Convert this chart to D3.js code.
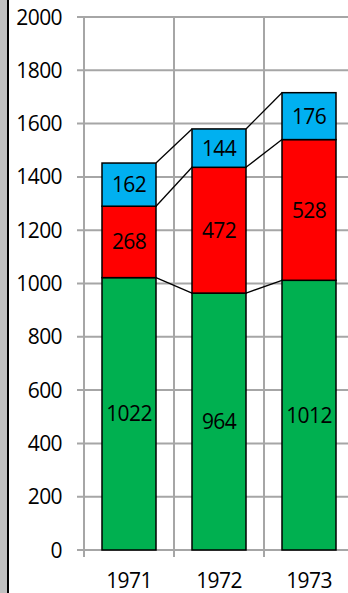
<!DOCTYPE html>
<html>
<head>
<meta charset="utf-8">
<script src="https://cdn.jsdelivr.net/npm/d3@7"></script>
<style>
  html, body { margin: 0; padding: 0; background: #fff; }
  svg { display: block; }
  text { font-family: "Open Sans", "Noto Sans", sans-serif; fill: #000; letter-spacing: -0.6px; }
</style>
</head>
<body>
<svg id="chart" width="348" height="593"></svg>
<script>
const years = ["1971", "1972", "1973"];
const greenValues = [1022, 964, 1012];
const redValues = [268, 472, 528];
const blueValues = [162, 144, 176];
const yTicks = [0, 200, 400, 600, 800, 1000, 1200, 1400, 1600, 1800, 2000];
const seriesColors = ["#00b050", "#ff0000", "#00b0f0"];

const svg = d3.select("#chart");
const W = 348, H = 593;
const x0 = 84, y0 = 550, yTop = 17;
const fs = 21;

// left frame strip
svg.append("rect").attr("x", 0).attr("y", 0).attr("width", 7).attr("height", H).attr("fill", "#c0c0c0");
svg.append("rect").attr("x", 7).attr("y", 0).attr("width", 2).attr("height", H).attr("fill", "#000");

const y = d3.scaleLinear().domain([0, 2000]).range([y0, yTop]);
const x = d3.scaleBand().domain(years).range([x0, x0 + 270]).paddingInner(0).paddingOuter(0);
const barW = x.bandwidth() * 0.6;

const grid = svg.append("g").attr("stroke", "#a6a6a6").attr("stroke-width", 2);
// horizontal gridlines with tick stubs
yTicks.forEach(t => {
  grid.append("line").attr("x1", x0 - 7).attr("x2", W).attr("y1", y(t)).attr("y2", y(t));
});
// vertical gridlines at category boundaries
[x0, x("1972"), x("1973")].forEach(v => {
  grid.append("line").attr("x1", v).attr("x2", v).attr("y1", yTop).attr("y2", y0 + 7);
});

// y tick labels
svg.append("g").selectAll("text").data(yTicks).join("text")
  .attr("x", 62).attr("y", d => y(d)).attr("dy", "0.36em")
  .attr("text-anchor", "end").attr("font-size", fs).text(d => d);

// x labels
svg.append("g").selectAll("text").data(years).join("text")
  .attr("x", d => x(d) + x.bandwidth() / 2).attr("y", 580).attr("dy", "0.36em")
  .attr("text-anchor", "middle").attr("font-size", fs).text(d => d);

// stacked data
const series = [greenValues, redValues, blueValues];
const stacks = years.map((yr, i) => {
  let base = 0;
  return series.map((s, k) => {
    const seg = { year: yr, k, v: s[i], y0: base, y1: base + s[i] };
    base += s[i];
    return seg;
  });
});

// connector lines between segment tops of neighbouring bars
const conn = svg.append("g").attr("stroke", "#000").attr("stroke-width", 1.3);
for (let i = 0; i < years.length - 1; i++) {
  for (let k = 0; k < series.length; k++) {
    const a = stacks[i][k], b = stacks[i + 1][k];
    const xa = x(years[i]) + x.bandwidth() / 2 + barW / 2;
    const xb = x(years[i + 1]) + x.bandwidth() / 2 - barW / 2;
    conn.append("line").attr("x1", xa).attr("y1", y(a.y1)).attr("x2", xb).attr("y2", y(b.y1));
  }
}

// bars
const bars = svg.append("g");
stacks.flat().forEach(seg => {
  const cx = x(seg.year) + x.bandwidth() / 2;
  bars.append("rect")
    .attr("x", cx - barW / 2).attr("width", barW)
    .attr("y", y(seg.y1)).attr("height", y(seg.y0) - y(seg.y1))
    .attr("fill", seriesColors[seg.k]).attr("stroke", "#000").attr("stroke-width", 1.5);
  bars.append("text")
    .attr("x", cx).attr("y", y((seg.y0 + seg.y1) / 2)).attr("dy", "0.36em")
    .attr("text-anchor", "middle").attr("font-size", fs).text(seg.v);
});
</script>
</body>
</html>
